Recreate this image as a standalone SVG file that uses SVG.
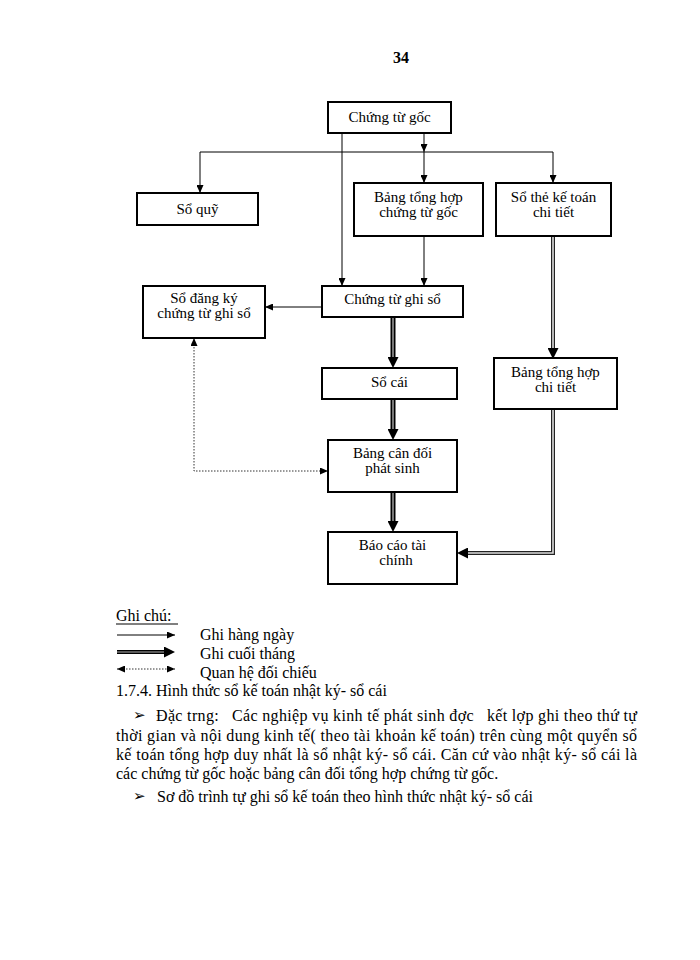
<svg xmlns="http://www.w3.org/2000/svg" width="700" height="960" viewBox="0 0 700 960">
<style>
.bg{fill:#fff}
.box{fill:#fff;stroke:#000;stroke-width:2}
.t{font-family:"Liberation Serif","Times New Roman",serif;font-size:15px;fill:#000;text-anchor:middle}
.p{font-family:"Liberation Serif","Times New Roman",serif;font-size:16px;fill:#000;white-space:pre}
.sym{font-family:"DejaVu Sans",sans-serif;font-size:15px;fill:#000}
.thin{fill:none;stroke:#000;stroke-width:1}
.thkO{fill:none;stroke:#000;stroke-width:5}
.thkI{fill:none;stroke:#777;stroke-width:2}
.dblO{fill:none;stroke:#222;stroke-width:4}
.dblI{fill:none;stroke:#ddd;stroke-width:1.6}
.dot{fill:none;stroke:#333;stroke-width:1;stroke-dasharray:1.5,1.5}
</style>
<defs>
<marker id="a" markerUnits="userSpaceOnUse" markerWidth="8" markerHeight="7" refX="8" refY="3.5" orient="auto"><path d="M0,0 L8,3.5 L0,7 z" fill="#000"/></marker>
<marker id="ad" markerUnits="userSpaceOnUse" markerWidth="8" markerHeight="7" refX="8" refY="3.5" orient="auto-start-reverse"><path d="M0,0 L8,3.5 L0,7 z" fill="#000"/></marker>
<marker id="ab" markerUnits="userSpaceOnUse" markerWidth="11" markerHeight="11" refX="0" refY="5.5" orient="auto"><path d="M0,0 L11,5.5 L0,11 z" fill="#000"/></marker>
</defs>
<rect class="bg" x="0" y="0" width="700" height="960"/>

<text x="401" y="63" style="font-family:'Liberation Serif',serif;font-size:16px;font-weight:bold;text-anchor:middle">34</text>

<g id="connectors">
  <line class="thin" x1="424" y1="133" x2="424" y2="152" marker-end="url(#a)"/>
  <line class="thin" x1="200" y1="152" x2="553" y2="152"/>
  <line class="thin" x1="200" y1="152" x2="200" y2="193" marker-end="url(#a)"/>
  <line class="thin" x1="424" y1="152" x2="424" y2="183" marker-end="url(#a)"/>
  <line class="thin" x1="553" y1="152" x2="553" y2="183" marker-end="url(#a)"/>
  <line class="thin" x1="342" y1="133" x2="342" y2="286" marker-end="url(#a)"/>
  <line class="thin" x1="424" y1="236" x2="424" y2="286" marker-end="url(#a)"/>
  <line class="thin" x1="322" y1="307" x2="265" y2="307" marker-end="url(#a)"/>

  <line class="thkO" x1="393" y1="317" x2="393" y2="357" marker-end="url(#ab)"/>
  <line class="thkI" x1="393" y1="318" x2="393" y2="357"/>
  <line class="thkO" x1="393" y1="399" x2="393" y2="429" marker-end="url(#ab)"/>
  <line class="thkI" x1="393" y1="400" x2="393" y2="429"/>
  <line class="thkO" x1="393" y1="492" x2="393" y2="521" marker-end="url(#ab)"/>
  <line class="thkI" x1="393" y1="493" x2="393" y2="521"/>

  <line class="dblO" x1="553" y1="236" x2="553" y2="348" marker-end="url(#ab)"/>
  <line class="dblI" x1="553" y1="237" x2="553" y2="348"/>
  <path class="dblO" d="M553,409 L553,553 L468,553" marker-end="url(#ab)"/>
  <path class="dblI" d="M553,410 L553,553 L468,553"/>

  <path class="dot" d="M194,338 L194,471 L328,471" marker-start="url(#ad)" marker-end="url(#ad)"/>
</g>

<g id="n-chung-tu-goc"><rect class="box" x="328" y="102" width="123" height="31"/><text class="t" x="389.5" y="122">Chứng từ gốc</text></g>
<g id="n-so-quy"><rect class="box" x="137" y="193" width="121" height="32"/><text class="t" x="197.5" y="214">Sổ quỹ</text></g>
<g id="n-bang-tong-hop-ctg"><rect class="box" x="354" y="183" width="129" height="53"/><text class="t" x="418.5" y="202">Bảng tổng hợp</text><text class="t" x="418.5" y="217">chứng từ gốc</text></g>
<g id="n-so-the"><rect class="box" x="496" y="183" width="115" height="53"/><text class="t" x="553.5" y="202">Sổ thẻ kế toán</text><text class="t" x="553.5" y="217">chi tiết</text></g>
<g id="n-so-dang-ky"><rect class="box" x="143" y="286" width="122" height="52"/><text class="t" x="204" y="303">Sổ đăng ký</text><text class="t" x="204" y="318">chứng từ ghi sổ</text></g>
<g id="n-chung-tu-ghi-so"><rect class="box" x="322" y="286" width="141" height="31"/><text class="t" x="392.5" y="304">Chứng từ ghi sổ</text></g>
<g id="n-so-cai"><rect class="box" x="322" y="368" width="135" height="31"/><text class="t" x="389.5" y="387">Sổ cái</text></g>
<g id="n-bang-tong-hop-ct"><rect class="box" x="494" y="358" width="123" height="51"/><text class="t" x="555.5" y="377">Bảng tổng hợp</text><text class="t" x="555.5" y="392">chi tiết</text></g>
<g id="n-bang-can-doi"><rect class="box" x="328" y="440" width="129" height="52"/><text class="t" x="392.5" y="458">Bảng cân đối</text><text class="t" x="392.5" y="473">phát sinh</text></g>
<g id="n-bao-cao"><rect class="box" x="328" y="532" width="129" height="52"/><text class="t" x="392.5" y="550">Báo cáo tài</text><text class="t" x="396" y="565">chính</text></g>

<g id="legend">
  <text class="p" x="116" y="621">Ghi chú:</text>
  <line x1="116" y1="624" x2="178" y2="624" stroke="#000" stroke-width="1"/>
  <line class="thin" x1="117" y1="635" x2="175" y2="635" marker-end="url(#a)"/>
  <text class="p" x="200" y="640">Ghi hàng ngày</text>
  <line class="thkO" x1="117" y1="652" x2="164" y2="652" style="stroke-width:4" marker-end="url(#ab)"/>
  <line class="thkI" x1="117" y1="652" x2="164" y2="652" style="stroke-width:1.5"/>
  <text class="p" x="200" y="659">Ghi cuối tháng</text>
  <line class="dot" x1="117" y1="669" x2="175" y2="669" marker-start="url(#ad)" marker-end="url(#ad)"/>
  <text class="p" x="200" y="678">Quan hệ đối chiếu</text>
</g>

<g id="body">
  <text class="p" x="116" y="696">1.7.4. Hình thức sổ kế toán nhật ký- sổ cái</text>
  <text class="sym" x="133" y="720">➢</text>
  <text class="p" x="156" y="721" textLength="481" lengthAdjust="spacing">Đặc trng:   Các nghiệp vụ kinh tế phát sinh đợc   kết lợp ghi theo thứ tự</text>
  <text class="p" x="116" y="741" textLength="521" lengthAdjust="spacing">thời gian và nội dung kinh tế( theo tài khoản kế toán) trên cùng một quyển sổ</text>
  <text class="p" x="116" y="760" textLength="521" lengthAdjust="spacing">kế toán tổng hợp duy nhất là sổ nhật ký- sổ cái. Căn cứ vào nhật ký- sổ cái là</text>
  <text class="p" x="116" y="779">các chứng từ gốc hoặc bảng cân đối tổng hợp chứng từ gốc.</text>
  <text class="sym" x="133" y="801">➢</text>
  <text class="p" x="157" y="802">Sơ đồ trình tự ghi sổ kế toán theo hình thức nhật ký- sổ cái</text>
</g>
</svg>
